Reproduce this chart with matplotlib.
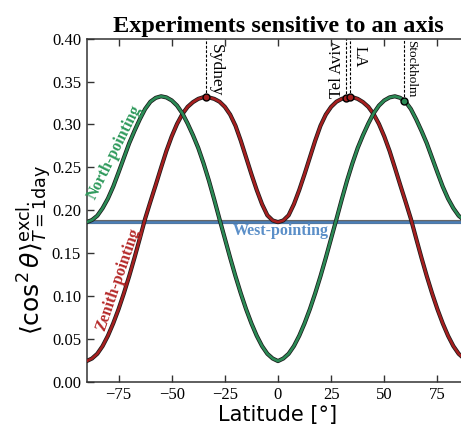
import numpy as np
import matplotlib
matplotlib.use("Agg")
import matplotlib.pyplot as plt

# ── DATOS ─────────────────────────────────────────────────────────────────────
latitud = [-90, -87.5, -85, -82.5, -80, -77.5, -75, -72.5, -70, -67.5, -65,
           -62.5, -60, -57.5, -55, -52.5, -50, -47.5, -45, -42.5, -40, -37.5,
           -35, -32.5, -30, -27.5, -25, -22.5, -20, -17.5, -15, -12.5, -10,
           -7.5, -5, -2.5, 0, 2.5, 5, 7.5, 10, 12.5, 15, 17.5, 20, 22.5, 25,
           27.5, 30, 32.5, 35, 37.5, 40, 42.5, 45, 47.5, 50, 52.5, 55, 57.5,
           60, 62.5, 65, 67.5, 70, 72.5, 75, 77.5, 80, 82.5, 85, 87.5, 90]

zenith = [0.024, 0.027, 0.0325, 0.0415, 0.0535, 0.068, 0.0845, 0.103, 0.123,
          0.1445, 0.167, 0.190, 0.210, 0.2295, 0.2495, 0.269, 0.286, 0.3005,
          0.312, 0.3205, 0.326, 0.3298, 0.3318, 0.3315, 0.3298, 0.3265,
          0.3205, 0.3115, 0.2985, 0.281, 0.2615, 0.242, 0.2235, 0.207, 0.194,
          0.188, 0.186,
          0.188, 0.194, 0.207, 0.2235, 0.242, 0.2615, 0.281, 0.2985, 0.3115,
          0.3205, 0.3265, 0.3298, 0.3315, 0.3318, 0.3298, 0.326, 0.3205,
          0.312, 0.3005, 0.286, 0.269, 0.2495, 0.2295, 0.210, 0.190, 0.167,
          0.1445, 0.123, 0.103, 0.0845, 0.068, 0.0535, 0.0415, 0.0325, 0.027,
          0.024]

north = [0.186, 0.1885, 0.1935, 0.2023, 0.2135, 0.2275, 0.244, 0.261, 0.278,
         0.2925, 0.306, 0.318, 0.3265, 0.331, 0.3328, 0.3315, 0.328, 0.322,
         0.313, 0.301, 0.2875, 0.2725, 0.2545, 0.2345, 0.2125, 0.1895, 0.167,
         0.1445, 0.123, 0.103, 0.0845, 0.068, 0.0535, 0.0415, 0.0325, 0.027,
         0.024,
         0.027, 0.0325, 0.0415, 0.0535, 0.068, 0.0845, 0.103, 0.123, 0.1445,
         0.167, 0.1895, 0.2125, 0.2345, 0.2545, 0.2725, 0.2875, 0.301, 0.313,
         0.322, 0.328, 0.3315, 0.3328, 0.331, 0.3265, 0.318, 0.306, 0.2925,
         0.278, 0.261, 0.244, 0.2275, 0.2135, 0.2023, 0.1935, 0.1885, 0.186]

west_lat = [-90, 90]
west = [0.186, 0.186]

ciudades = ["Sydney", "Tel Aviv", "LA", "Stockholm"]
ciudad_lat = [-33.87, 32.08, 34.05, 59.33]
ciudad_val = [0.3317, 0.331, 0.3318, 0.3275]
ciudad_curva = ["zenith", "zenith", "zenith", "north"]

xticks = [-75, -50, -25, 0, 25, 50, 75]
yticks = [0.00, 0.05, 0.10, 0.15, 0.20, 0.25, 0.30, 0.35, 0.40]

# ── ESTILO ────────────────────────────────────────────────────────────────────
plt.rcParams['font.family'] = ['Liberation Serif', 'DejaVu Serif']
plt.rcParams['mathtext.fontset'] = 'dejavusans'

ROJO = '#a51f1f'
VERDE = '#2b8a55'
AZUL = '#4a7fb8'
colores = {"zenith": ROJO, "north": VERDE}

fig = plt.figure(figsize=(4.61, 4.25), dpi=100)
ax = fig.add_axes([0.188, 0.102, 0.830, 0.807])

# ── CURVAS (con borde negro) ──────────────────────────────────────────────────
ax.plot(west_lat, west, color='#666666', lw=3.0, zorder=2, solid_capstyle='butt')
ax.plot(west_lat, west, color=AZUL, lw=1.8, zorder=2.1, solid_capstyle='butt')

for serie, color, z in [(zenith, ROJO, 3), (north, VERDE, 4)]:
    ax.plot(latitud, serie, color='#1a1a1a', lw=3.0, zorder=z,
            solid_joinstyle='round')
    ax.plot(latitud, serie, color=color, lw=1.9, zorder=z + 0.1,
            solid_joinstyle='round')

# ── CIUDADES ──────────────────────────────────────────────────────────────────
for nombre, lat, val, curva in zip(ciudades, ciudad_lat, ciudad_val, ciudad_curva):
    ax.plot([lat, lat], [val, 0.40], color='black', lw=0.8, ls=(0, (2.5, 1.5)),
            zorder=5)
    ax.plot(lat, val, 'o', ms=5, mfc=colores[curva], mec='black', mew=1.0,
            zorder=6)

ax.text(-33.87 + 0.8, 0.394, "Sydney", rotation=-90, ha='left', va='top',
        fontsize=12.5, zorder=7)
ax.text(32.08 - 0.6, 0.397, "Tel Aviv", rotation=90, ha='right', va='top',
        fontsize=12, zorder=7)
ax.text(34.05 + 0.8, 0.391, "LA", rotation=-90, ha='left', va='top',
        fontsize=11.5, zorder=7)
ax.text(59.33 + 0.6, 0.398, "Stockholm", rotation=-90, ha='left', va='top',
        fontsize=9.5, zorder=7)

# ── ETIQUETAS DE CURVAS ───────────────────────────────────────────────────────
ax.text(-77, 0.267, "North-pointing", rotation=63.5, ha='center', va='center',
        rotation_mode='anchor', color='#2f9a5c', fontsize=11.5,
        fontweight='bold', zorder=8)
ax.text(-75, 0.1187, "Zenith-pointing", rotation=71, ha='center', va='center',
        rotation_mode='anchor', color='#b52a2a', fontsize=11.5,
        fontweight='bold', zorder=8)
ax.text(1.3, 0.176, "West-pointing", ha='center', va='center',
        color='#5b8fc8', fontsize=11.5, fontweight='bold', zorder=8)

# ── EJES ──────────────────────────────────────────────────────────────────────
ax.set_xlim(-90, 90)
ax.set_ylim(0, 0.40)
ax.set_xticks(xticks)
ax.set_yticks(yticks)
ax.set_yticklabels([f"{v:.2f}" for v in yticks])
ax.tick_params(axis='x', direction='in', top=True, length=5, width=1,
               labelsize=12, pad=4, color='#333333')
ax.tick_params(axis='y', direction='in', length=5, width=1,
               labelsize=12, pad=4, color='#333333')
ax.spines['right'].set_visible(False)
for s in ['left', 'bottom', 'top']:
    ax.spines[s].set_color('#333333')
    ax.spines[s].set_linewidth(1.1)

ax.set_title("Experiments sensitive to an axis", fontsize=17.5,
             fontweight='bold', pad=5)
ax.set_xlabel("Latitude [°]", fontsize=15, family='DejaVu Sans', labelpad=1)
ax.set_ylabel(r'$\langle \cos^2\theta\rangle^{\rm excl.}_{T=1{\rm day}}$',
              fontsize=18)
ax.yaxis.set_label_coords(-0.085, 0.384)

fig.savefig("out.png", dpi=100)
